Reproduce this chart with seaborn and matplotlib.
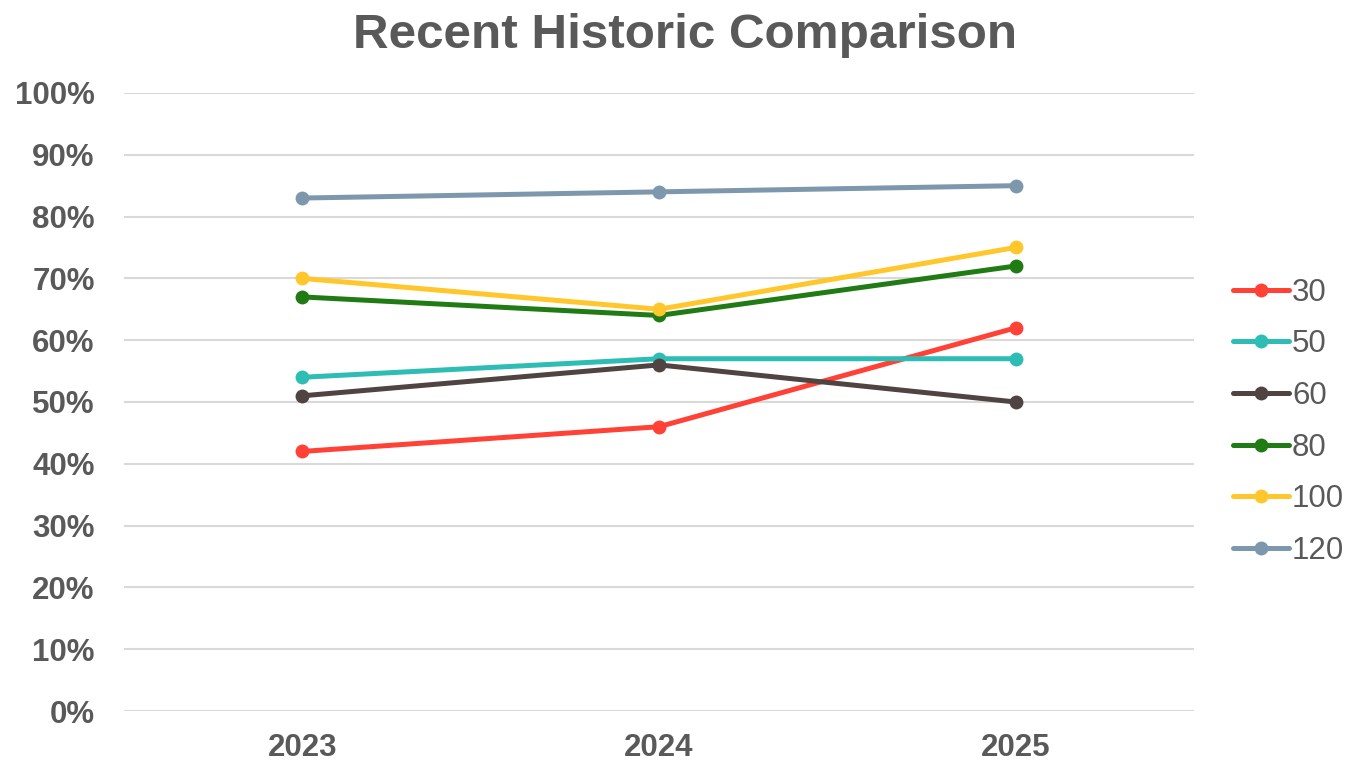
import pandas as pd
import seaborn as sns
import matplotlib.pyplot as plt
from matplotlib.ticker import PercentFormatter

years = ["2023", "2024", "2025"]
series_names = ["30", "50", "60", "80", "100", "120"]
values_30 = [0.42, 0.46, 0.62]
values_50 = [0.54, 0.57, 0.57]
values_60 = [0.51, 0.56, 0.50]
values_80 = [0.67, 0.64, 0.72]
values_100 = [0.70, 0.65, 0.75]
values_120 = [0.83, 0.84, 0.85]
colors = ["#FF4136", "#2EBDB5", "#4F4442", "#217B14", "#FFC72C", "#7D98AD"]

all_values = [values_30, values_50, values_60, values_80, values_100, values_120]
rows = []
for name, vals in zip(series_names, all_values):
    for year, v in zip(years, vals):
        rows.append({"year": year, "value": v, "series": name})
df = pd.DataFrame(rows)

sns.set_theme(style="white")
plt.rcParams["font.family"] = ["Liberation Sans", "DejaVu Sans"]
grey = "#595959"

fig = plt.figure(figsize=(13.51, 7.62), dpi=100)
ax = fig.add_axes([0.0918, 0.0669, 0.7920, 0.8111])

sns.lineplot(data=df, x="year", y="value", hue="series", hue_order=series_names,
             palette=dict(zip(series_names, colors)), marker="o", markersize=10,
             markeredgewidth=0, linewidth=3.6, sort=False, ax=ax)

ax.set_xlim(-0.5, 2.5)
ax.set_ylim(0, 1)
ax.set_yticks([i / 10 for i in range(11)])
ax.yaxis.set_major_formatter(PercentFormatter(1.0, decimals=0))
ax.grid(axis="y", color="#d9d9d9", linewidth=1.5)
ax.set_axisbelow(True)
for s in ax.spines.values():
    s.set_visible(False)
ax.tick_params(axis="y", length=0, labelsize=22.5, labelcolor=grey, pad=21)
ax.tick_params(axis="x", length=0, labelsize=22.5, labelcolor=grey, pad=16)
for lbl in ax.get_xticklabels() + ax.get_yticklabels():
    lbl.set_fontweight("bold")
ax.set_xlabel("")
ax.set_ylabel("")

fig.suptitle("Recent Historic Comparison", x=0.507, y=0.983, fontsize=35.6,
             fontweight="bold", color=grey)

handles, labels = ax.get_legend_handles_labels()
ax.legend(handles, labels, loc="center left", bbox_to_anchor=(1.036, 0.468),
          frameon=False, fontsize=22.5, labelcolor=grey, handlelength=1.8,
          handletextpad=0.1, labelspacing=0.69, borderaxespad=0, borderpad=0)

fig.savefig("out.png", dpi=100)
